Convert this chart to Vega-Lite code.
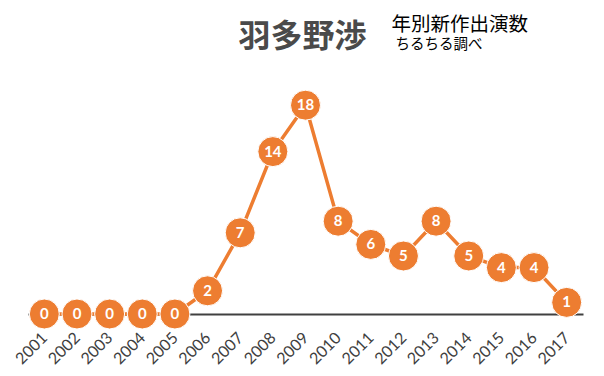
{
  "$schema": "https://vega.github.io/schema/vega-lite/v6.json",
  "width": 555,
  "height": 232,
  "autosize": {"type": "none"},
  "padding": {"left": 28, "top": 82, "right": 21, "bottom": 62},
  "background": "white",
  "config": {"view": {"stroke": null}},
  "data": {
    "values": [
      {"year": "2001", "count": 0},
      {"year": "2002", "count": 0},
      {"year": "2003", "count": 0},
      {"year": "2004", "count": 0},
      {"year": "2005", "count": 0},
      {"year": "2006", "count": 2},
      {"year": "2007", "count": 7},
      {"year": "2008", "count": 14},
      {"year": "2009", "count": 18},
      {"year": "2010", "count": 8},
      {"year": "2011", "count": 6},
      {"year": "2012", "count": 5},
      {"year": "2013", "count": 8},
      {"year": "2014", "count": 5},
      {"year": "2015", "count": 4},
      {"year": "2016", "count": 4},
      {"year": "2017", "count": 1}
    ]
  },
  "layer": [
    {
      "mark": {"type": "line", "color": "#ED7D31", "strokeWidth": 3.5},
      "encoding": {
        "x": {
          "field": "year",
          "type": "ordinal",
          "scale": {"type": "point", "padding": 0.5},
          "axis": {
            "title": null,
            "labelAngle": -45,
            "labelAlign": "right",
            "labelBaseline": "middle",
            "labelPadding": 21,
            "labelFont": "Lato",
            "labelFontSize": 16,
            "labelColor": "#404040",
            "ticks": false,
            "domainColor": "#404040",
            "domainWidth": 2,
            "grid": false
          }
        },
        "y": {
          "field": "count",
          "type": "quantitative",
          "scale": {"domain": [0, 20], "nice": false},
          "axis": null
        }
      }
    },
    {
      "mark": {"type": "point", "filled": true, "size": 900, "color": "#ED7D31", "opacity": 1, "stroke": "white", "strokeWidth": 1},
      "encoding": {
        "x": {"field": "year", "type": "ordinal"},
        "y": {"field": "count", "type": "quantitative"}
      }
    },
    {
      "mark": {"type": "text", "color": "white", "font": "Lato", "fontWeight": "bold", "fontSize": 15, "baseline": "middle"},
      "encoding": {
        "x": {"field": "year", "type": "ordinal"},
        "y": {"field": "count", "type": "quantitative"},
        "text": {"field": "count", "type": "quantitative"}
      }
    },
    {
      "data": {"values": [{"label": "羽多野渉"}]},
      "mark": {"type": "text", "font": "Noto Sans CJK JP", "fontSize": 32, "fontWeight": "bold", "color": "#4a4a4a", "align": "center", "baseline": "middle", "dx": -3},
      "encoding": {"x": {"datum": "2009", "type": "ordinal"}, "y": {"datum": 23.88, "type": "quantitative"}, "text": {"field": "label", "type": "nominal"}}
    },
    {
      "data": {"values": [{"label": "年別新作出演数"}]},
      "mark": {"type": "text", "font": "Noto Sans CJK JP", "fontSize": 19.5, "color": "black", "align": "left", "baseline": "middle", "dx": -12},
      "encoding": {"x": {"datum": "2012", "type": "ordinal"}, "y": {"datum": 24.9, "type": "quantitative"}, "text": {"field": "label", "type": "nominal"}}
    },
    {
      "data": {"values": [{"label": "ちるちる調べ"}]},
      "mark": {"type": "text", "font": "Noto Sans CJK JP", "fontSize": 14.5, "color": "black", "align": "left", "baseline": "middle", "dx": -8},
      "encoding": {"x": {"datum": "2012", "type": "ordinal"}, "y": {"datum": 23.2, "type": "quantitative"}, "text": {"field": "label", "type": "nominal"}}
    }
  ]
}
